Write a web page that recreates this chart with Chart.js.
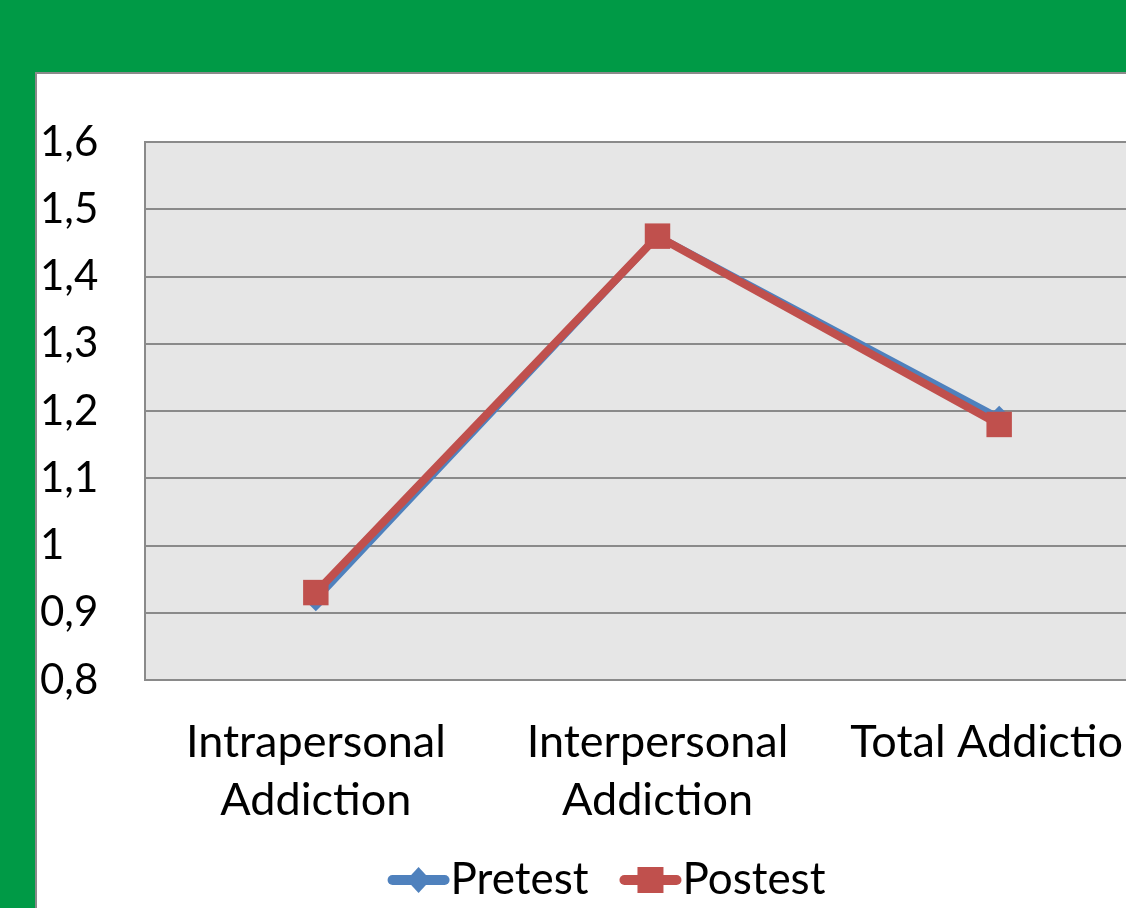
<!DOCTYPE html>
<html>
<head>
<meta charset="utf-8">
<script src="https://cdn.jsdelivr.net/npm/chart.js@4.4.0/dist/chart.umd.min.js"></script>
<style>
  html, body { margin: 0; padding: 0; width: 1126px; height: 908px; overflow: hidden; background: #009a46; }
  #panel { position: absolute; left: 35px; top: 72px; width: 1200px; height: 900px; background: #fff;
           border-top: 2px solid #8a8a8a; border-left: 2px solid #8a8a8a; box-sizing: border-box; }
  #chart { position: absolute; left: 36px; top: 73px; }
</style>
</head>
<body>
<div id="panel"></div>
<canvas id="chart" width="1152" height="835"></canvas>
<script>
// categories, series and tick labels
const categories = [['Intrapersonal', 'Addiction'], ['Interpersonal', 'Addiction'], ['Total Addiction']];
const pretest = [0.92, 1.46, 1.19];
const postest = [0.93, 1.46, 1.18];
const yTickLabels = ['0,8', '0,9', '1', '1,1', '1,2', '1,3', '1,4', '1,5', '1,6'];

const blue = '#4f81bd';
const red = '#c0504d';
const font = 'Lato';

// gray plot area fill
const plotBg = {
    id: 'plotBg',
    beforeDraw(chart) {
        const { ctx, chartArea: a } = chart;
        ctx.save();
        ctx.fillStyle = '#e6e6e6';
        ctx.fillRect(a.left, a.top, a.right - a.left, a.bottom - a.top);
        ctx.restore();
    }
};

// legend with line + marker symbols, like the office chart
const lineLegend = {
    id: 'lineLegend',
    afterDraw(chart) {
        const ctx = chart.ctx;
        const y = 807;
        const symW = 60, gap = 2, between = 32;
        ctx.save();
        ctx.font = '44px ' + font;
        ctx.textBaseline = 'middle';
        const items = chart.data.datasets.map(ds => ({ ds, w: symW + gap + ctx.measureText(ds.label).width }));
        const total = items.reduce((s, it) => s + it.w, 0) + between * (items.length - 1);
        let x = 571 - total / 2;
        items.forEach(({ ds }) => {
            ctx.strokeStyle = ds.borderColor;
            ctx.lineWidth = 10;
            ctx.lineCap = 'round';
            ctx.beginPath();
            ctx.moveTo(x + 4, y);
            ctx.lineTo(x + symW - 4, y);
            ctx.stroke();
            ctx.fillStyle = ds.pointBackgroundColor;
            const cx = x + symW / 2;
            if (ds.pointStyle === 'rect') {
                ctx.fillRect(cx - 13, y - 13, 26, 26);
            } else {
                ctx.beginPath();
                ctx.moveTo(cx, y - 13);
                ctx.lineTo(cx + 12, y);
                ctx.lineTo(cx, y + 13);
                ctx.lineTo(cx - 12, y);
                ctx.closePath();
                ctx.fill();
            }
            ctx.fillStyle = '#000';
            ctx.textAlign = 'left';
            ctx.fillText(ds.label, x + symW + gap, y);
            x += symW + gap + ctx.measureText(ds.label).width + between;
        });
        ctx.restore();
    }
};

new Chart(document.getElementById('chart'), {
    type: 'line',
    data: {
        labels: categories,
        datasets: [
            {
                label: 'Pretest',
                data: pretest,
                borderColor: blue,
                backgroundColor: blue,
                pointBackgroundColor: blue,
                pointBorderColor: blue,
                borderWidth: 7,
                pointStyle: 'rectRot',
                pointRadius: 12,
                pointBorderWidth: 0,
                order: 2
            },
            {
                label: 'Postest',
                data: postest,
                borderColor: red,
                backgroundColor: red,
                pointBackgroundColor: red,
                pointBorderColor: red,
                borderWidth: 8,
                pointStyle: 'rect',
                pointRadius: 18,
                pointBorderWidth: 0,
                order: 1
            }
        ]
    },
    options: {
        responsive: false,
        animation: false,
        layout: { padding: { top: 69, left: 4, right: 7, bottom: 78 } },
        plugins: {
            legend: { display: false },
            tooltip: { enabled: false }
        },
        scales: {
            x: {
                offset: true,
                grid: { display: true, drawOnChartArea: false, drawTicks: false, tickLength: 0 },
                border: { display: true, color: '#8a8a8a', width: 2 },
                ticks: {
                    color: '#000',
                    padding: 33,
                    maxRotation: 0,
                    font: { family: font, size: 45, lineHeight: 1.29 }
                },
                afterFit(scale) {
                    scale.height = 150;
                    scale.paddingLeft = 0;
                    scale.paddingRight = 0;
                }
            },
            y: {
                min: 0.8,
                max: 1.6,
                grid: { color: '#8a8a8a', lineWidth: 2, drawTicks: false, tickLength: 0 },
                border: { display: true, color: '#8a8a8a', width: 2 },
                ticks: {
                    stepSize: 0.1,
                    color: '#000',
                    crossAlign: 'far',
                    font: { family: font, size: 42 },
                    callback: (value, index) => yTickLabels[index]
                },
                afterFit(scale) { scale.width = 105; }
            }
        }
    },
    plugins: [plotBg, lineLegend]
});
</script>
</body>
</html>
